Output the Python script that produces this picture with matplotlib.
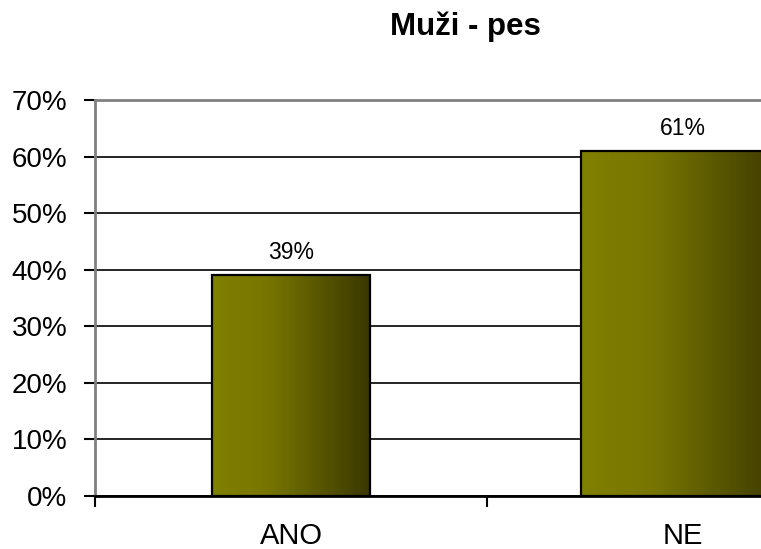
import numpy as np
import matplotlib.pyplot as plt
from matplotlib.colors import LinearSegmentedColormap
from matplotlib.ticker import PercentFormatter

plt.rcParams['font.family'] = ['Liberation Sans', 'DejaVu Sans']

# Data
categories = ['ANO', 'NE']
values = [39, 61]
title = 'Muži - pes'

fig = plt.figure(figsize=(7.61, 5.49), dpi=100)
# plot area runs past the right edge (the original screenshot is cropped)
ax = fig.add_axes([95 / 761, 53 / 549, 784 / 761, 396 / 549])

x = np.arange(len(categories))
widths = [0.403, 0.52]
bars = ax.bar(x, values, width=widths, facecolor='none', edgecolor='black',
              linewidth=1.6, zorder=3)

# horizontal olive gradient inside each bar
cmap = LinearSegmentedColormap.from_list(
    'olive', [(0.0, '#808000'), (0.35, '#787600'), (1.0, '#3a3800')])
grad = np.linspace(0, 1, 256).reshape(1, -1)
for b in bars:
    x0, y0 = b.get_x(), b.get_y()
    ax.imshow(grad, cmap=cmap, aspect='auto', zorder=2,
              extent=[x0, x0 + b.get_width(), y0, y0 + b.get_height()])

for xi, v in zip(x, values):
    ax.annotate(f'{v}%', (xi, v), xytext=(0, 8), textcoords='offset points',
                ha='center', va='bottom', fontsize=16.5)

ax.set_xlim(-0.5, 1.5)
ax.set_ylim(0, 70)
ax.set_yticks(range(0, 71, 10))
ax.yaxis.set_major_formatter(PercentFormatter(decimals=0))
ax.yaxis.grid(True, color='black', linewidth=1.2)
ax.set_axisbelow(True)

# category labels centred, ticks on the category boundaries
ax.set_xticks([-0.5, 0.5, 1.5])
ax.set_xticklabels([])
ax.set_xticks(x, minor=True)
ax.set_xticklabels(categories, minor=True, fontsize=21)
ax.tick_params(axis='x', which='minor', length=0, pad=19)
ax.tick_params(axis='x', which='major', length=8, width=1.5, direction='out')
ax.tick_params(axis='y', length=8, width=1.5, labelsize=20, pad=12)

ax.spines['left'].set_color('#808080')
ax.spines['left'].set_linewidth(2)
ax.spines['top'].set_color('#808080')
ax.spines['top'].set_linewidth(2)
ax.spines['right'].set_visible(False)
ax.spines['bottom'].set_color('black')
ax.spines['bottom'].set_linewidth(2)

fig.text(465 / 761, 1 - 27 / 549, title, ha='center', va='center',
         fontsize=22.5, fontweight='bold')

fig.savefig('out.png', dpi=100)
